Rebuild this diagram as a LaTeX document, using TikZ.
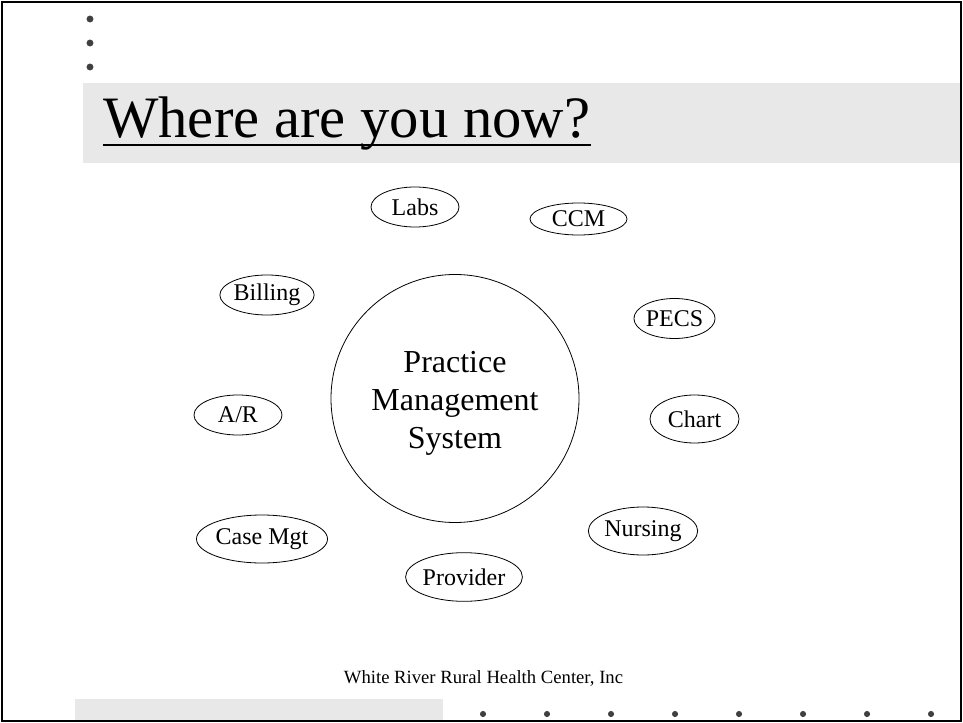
\documentclass[tikz,border=0pt]{standalone}
\usepackage{fontspec}
\setmainfont{Liberation Serif}
\usetikzlibrary{shapes.geometric}
\definecolor{slidegray}{HTML}{E8E8E8}
\definecolor{dotgray}{HTML}{404040}

\begin{document}
\begin{tikzpicture}[x=0.75pt,y=-0.75pt]
      \useasboundingbox (0,0) rectangle (963,723);

      % slide frame and shaded bands
      \fill[slidegray] (83,83) rectangle (960,163);
      \fill[slidegray] (75,699) rectangle (443,720);
      \draw[line width=1.5pt] (2,2) rectangle (961,721);

      % bullets
      \begin{scope}[dotgray]
        \fill (90,19) circle (2.6pt);
        \fill (90,43) circle (2.6pt);
        \fill (90,67) circle (2.6pt);
        \fill (483,714) circle (2.3pt);
        \fill (547,714) circle (2.3pt);
        \fill (611,714) circle (2.3pt);
        \fill (675,714) circle (2.3pt);
        \fill (739,714) circle (2.3pt);
        \fill (803,714) circle (2.3pt);
        \fill (867,714) circle (2.3pt);
        \fill (931,714) circle (2.3pt);
      \end{scope}

      \node[anchor=base west, inner sep=0pt, font=\fontsize{44}{50}\selectfont] (title) at (103,138) {Where are you now?};
      \draw[line width=1.5pt] ([yshift=-5.25pt]title.base west) -- ([yshift=-5.25pt]title.base east);

      \node[circle, draw, line width=0.6pt, minimum size=186pt] (0) at (455,398.5) {};
      \node[align=center, font=\fontsize{24}{28.5}\selectfont] (pms) at ([yshift=-3.5pt]0.center) {Practice\\Management\\System};

      \begin{scope}[every node/.style={ellipse, draw, line width=0.6pt, inner sep=0pt, font=\fontsize{18}{21}\selectfont}]
        \node[minimum width=66pt,   minimum height=30pt]   (1) at (415,207)   {Labs};
        \node[minimum width=72.75pt, minimum height=24pt]  (2) at (578.5,219) {CCM};
        \node[minimum width=60.75pt, minimum height=30pt]  (3) at (674.5,318.5) {PECS};
        \node[minimum width=66.75pt, minimum height=36pt]  (4) at (694.5,419) {Chart};
        \node[minimum width=73pt,   minimum height=36pt]   (5) at (643,531)   {Nursing};
        \node[minimum width=69.5pt, minimum height=36.5pt] (6) at (464,577)   {Provider};
        \node[minimum width=77pt,   minimum height=36pt]   (7) at (262,539)   {Case Mgt};
        \node[minimum width=66pt,   minimum height=30pt]   (8) at (238,415)   {A/R};
        \node[minimum width=60.75pt, minimum height=30pt]  (9) at (267,295)   {Billing};
      \end{scope}

      \node[anchor=base, inner sep=0pt, font=\fontsize{14}{16}\selectfont] (footer) at (483.5,683) {White River Rural Health Center, Inc};

    \end{tikzpicture}
\end{document}
